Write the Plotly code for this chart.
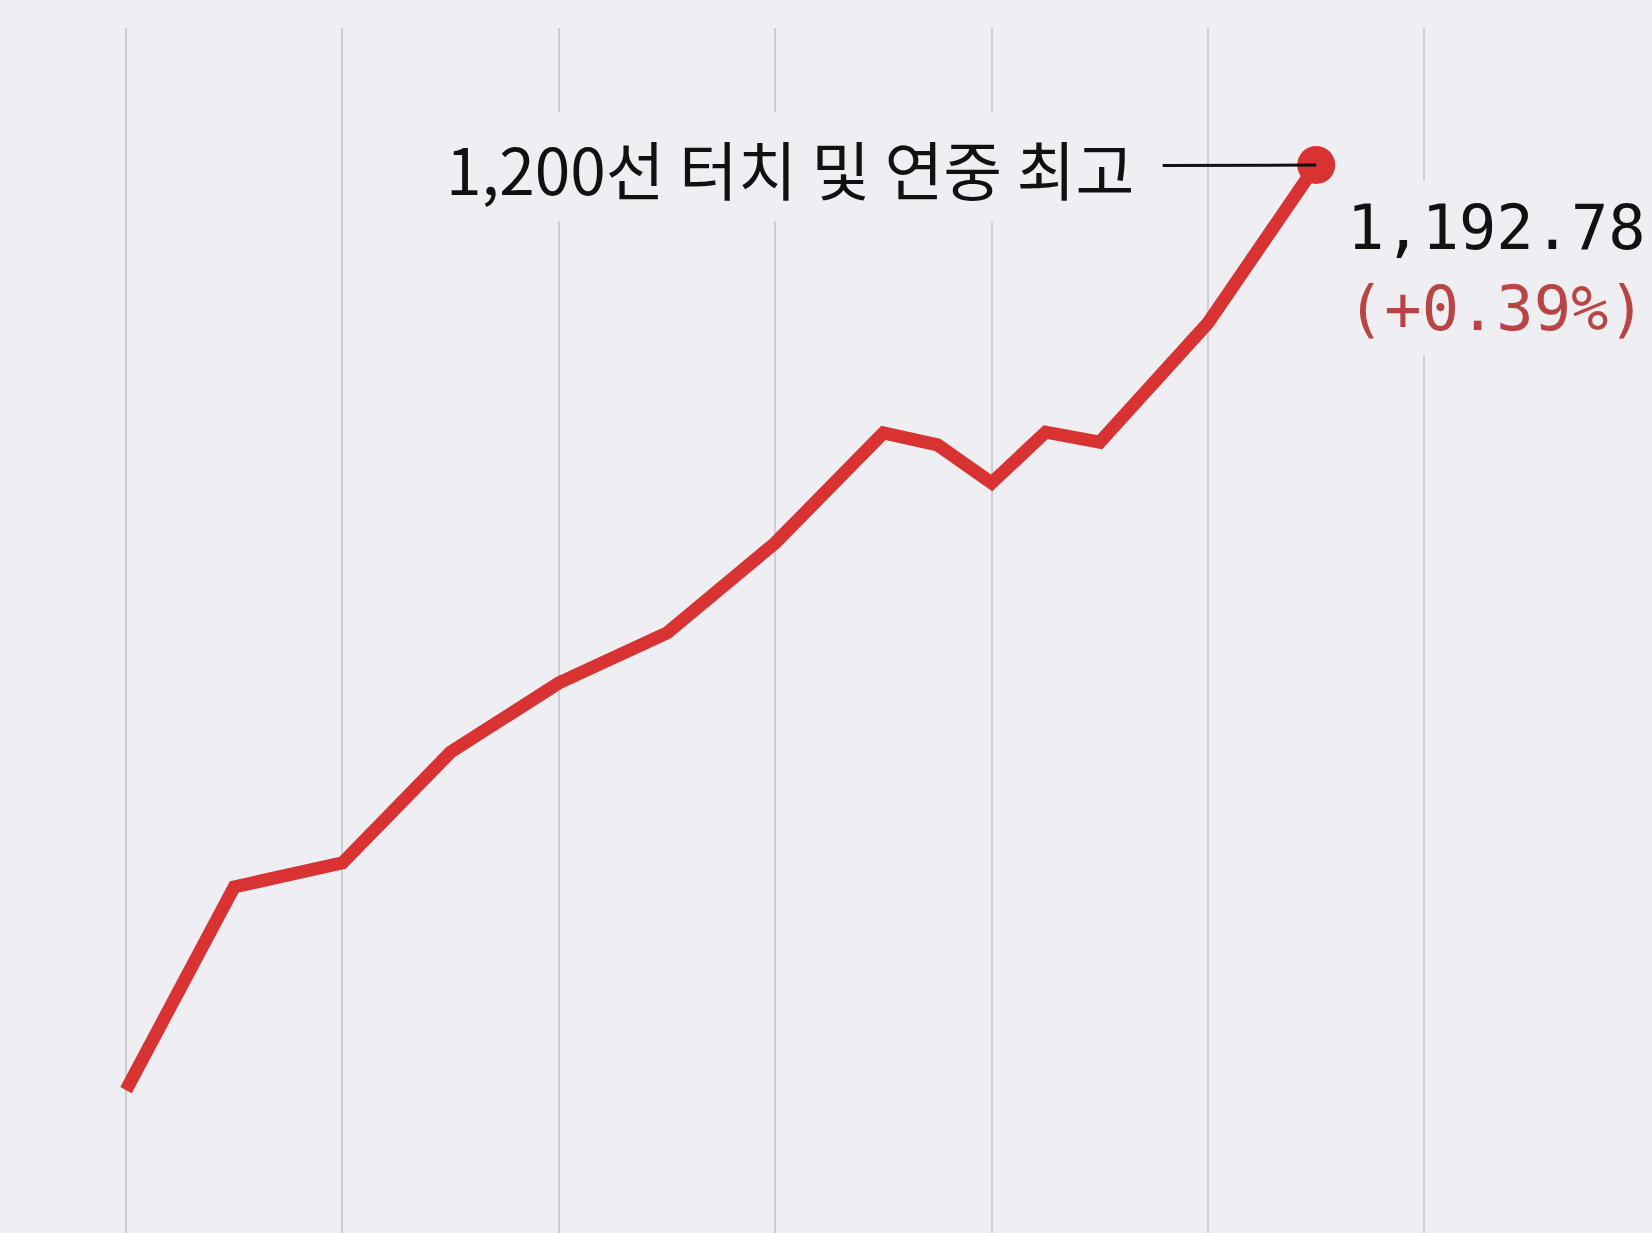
import plotly.graph_objects as go

# Data
days = [0, 2, 4, 6, 8, 10, 12, 14, 15, 16, 17, 18, 20, 22]
index_values = [961.5, 1012.3, 1018.3, 1046.0, 1063.3, 1075.8, 1098.3,
                1125.8, 1122.8, 1113.3, 1126.0, 1123.5, 1153.3, 1192.78]
last_label = "1,192.78"
last_change = "(+0.39%)"
note_text = "1,200선 터치 및 연중 최고"

BG = "#EFEFF3"
RED = "#D83232"
GRID = "#CDCDD3"

fig = go.Figure()
fig.add_trace(go.Scatter(
    x=days, y=index_values, mode="lines",
    line=dict(color=RED, width=13, shape="linear"),
    hoverinfo="skip", showlegend=False,
))
fig.add_trace(go.Scatter(
    x=[days[-1]], y=[index_values[-1]], mode="markers",
    marker=dict(color=RED, size=38, line=dict(width=0)),
    hoverinfo="skip", showlegend=False,
))

# leader annotation
fig.add_annotation(
    x=days[-1], y=index_values[-1], xref="x", yref="y",
    text=note_text, showarrow=True, arrowhead=0, arrowwidth=3,
    arrowcolor="#111111", ax=-526, ay=2, axref="pixel", ayref="pixel",
    font=dict(family="Noto Sans CJK KR", size=64, color="#111111"),
    bgcolor=BG, borderpad=8, standoff=0, startstandoff=20,
)

# value label
fig.add_annotation(
    x=days[-1], y=index_values[-1], xref="x", yref="y",
    text=f"{last_label}<br><span style='color:#B84444'>{last_change}</span>",
    showarrow=False, xanchor="left", yanchor="middle", align="left",
    xshift=20, yshift=-103,
    font=dict(family="DejaVu Sans Mono", size=62, color="#111111"),
    bgcolor=BG, borderpad=10,
)

px_per_day = 54.1
x0 = -126 / px_per_day
plot_w = 1652 - 50
fig.update_xaxes(
    range=[x0, x0 + plot_w / px_per_day],
    tick0=0, dtick=4, showgrid=True, gridcolor=GRID, gridwidth=2,
    showticklabels=False, zeroline=False, showline=False, ticks="",
)
top_val = 1192.78 + (165 - 28) / 4.0
fig.update_yaxes(
    range=[top_val - 1205 / 4.0, top_val],
    showgrid=False, showticklabels=False, zeroline=False, showline=False, ticks="",
)
fig.update_layout(
    width=1652, height=1233, autosize=False,
    margin=dict(l=0, r=50, t=28, b=0, pad=0),
    paper_bgcolor=BG, plot_bgcolor=BG,
)
fig.write_html(
    "out.html",
    config={"displayModeBar": False},
    post_script="document.body.style.margin='0';document.body.style.background='#EFEFF3';",
)
